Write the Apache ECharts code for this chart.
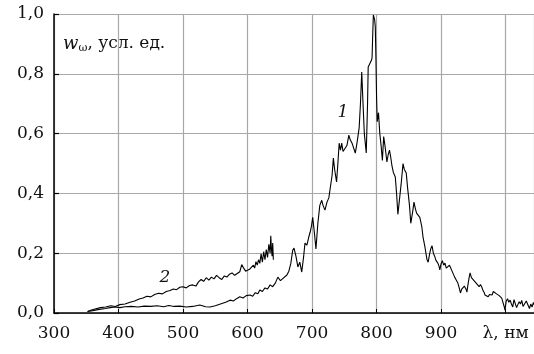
<!DOCTYPE html>
<html>
<head>
<meta charset="utf-8">
<script src="https://cdn.jsdelivr.net/npm/echarts@6/dist/echarts.min.js"></script>
<style>
  html, body { margin: 0; padding: 0; background: #fff; }
  #chart { width: 534px; height: 354px; }
</style>
</head>
<body>
<div id="chart"></div>
<script>
// Spectral density w_ω (arb. units) versus wavelength λ (nm), two spectra.
const wavelengthTicks = [300, 400, 500, 600, 700, 800, 900, 1000];
const densityTicks = [0.0, 0.2, 0.4, 0.6, 0.8, 1.0];

// Spectrum 1: [λ, w]
const spectrum1 = [
  [352, 0.005], [360, 0.008], [370, 0.012], [380, 0.015], [387, 0.018], [395, 0.020],
  [402, 0.018], [410, 0.021], [420, 0.022], [430, 0.020], [440, 0.023], [450, 0.022],
  [460, 0.024], [470, 0.021], [478, 0.025], [486, 0.022], [495, 0.023], [505, 0.020],
  [515, 0.022], [526, 0.027], [535, 0.021], [542, 0.020], [550, 0.024], [558, 0.030],
  [566, 0.036], [573, 0.043], [578, 0.040], [583, 0.048], [588, 0.054], [593, 0.050],
  [598, 0.058], [604, 0.060], [608, 0.056], [612, 0.068], [616, 0.064], [619, 0.077],
  [623, 0.072], [627, 0.084], [631, 0.080], [635, 0.094], [639, 0.088], [643, 0.100],
  [647, 0.120], [651, 0.108], [655, 0.116], [658, 0.112], [661, 0.127], [664, 0.140],
  [667, 0.165], [670, 0.210], [672, 0.217], [675, 0.190], [678, 0.154], [681, 0.170],
  [684, 0.137], [687, 0.190], [689, 0.234], [692, 0.227], [695, 0.255], [697, 0.270],
  [699, 0.290], [701, 0.320], [704, 0.260], [706, 0.214], [709, 0.300], [712, 0.360],
  [715, 0.377], [717, 0.360], [720, 0.344], [723, 0.370], [726, 0.385], [729, 0.390],
  [731, 0.460], [733, 0.518], [735, 0.480], [738, 0.438], [740, 0.500], [742, 0.568],
  [744, 0.545], [746, 0.568], [748, 0.540], [751, 0.535], [754, 0.560], [757, 0.595],
  [759, 0.580], [762, 0.568], [764, 0.555], [767, 0.535], [769, 0.560], [771, 0.589],
  [773, 0.620], [775, 0.700], [777, 0.806], [779, 0.700], [781, 0.600], [784, 0.535],
  [786, 0.700], [787, 0.823], [790, 0.836], [792, 0.845], [793, 0.853], [794, 0.930],
  [795, 0.997], [797, 0.980], [798, 0.957], [799, 0.850], [800, 0.720], [801, 0.640],
  [803, 0.670], [805, 0.600], [807, 0.560], [809, 0.510], [811, 0.590], [813, 0.560],
  [816, 0.505], [818, 0.530], [820, 0.545], [822, 0.520], [824, 0.490], [826, 0.470],
  [829, 0.455], [831, 0.400], [833, 0.330], [835, 0.370], [838, 0.430], [841, 0.500],
  [843, 0.480], [846, 0.468], [848, 0.420], [851, 0.360], [853, 0.300], [856, 0.340],
  [858, 0.371], [860, 0.350], [862, 0.334], [865, 0.330], [867, 0.320], [870, 0.290],
  [872, 0.254], [875, 0.220], [878, 0.180], [880, 0.170], [882, 0.195], [884, 0.215],
  [886, 0.225], [888, 0.200], [890, 0.190], [892, 0.176], [895, 0.167], [897, 0.155],
  [898, 0.144], [900, 0.165], [902, 0.175], [904, 0.160], [906, 0.167], [908, 0.150],
  [911, 0.144], [913, 0.160], [915, 0.155], [917, 0.140], [919, 0.144], [921, 0.120],
  [923, 0.112], [926, 0.100], [928, 0.085], [930, 0.067], [932, 0.080], [934, 0.077],
  [936, 0.090], [937, 0.094], [939, 0.078], [940, 0.070], [942, 0.100], [944, 0.125],
  [945, 0.134], [947, 0.118], [949, 0.117], [951, 0.108], [953, 0.104], [955, 0.098],
  [957, 0.094], [959, 0.088], [961, 0.095], [963, 0.087], [965, 0.075], [967, 0.068],
  [968, 0.060], [970, 0.064], [973, 0.054], [975, 0.062], [977, 0.058], [979, 0.060],
  [981, 0.072], [984, 0.077], [986, 0.064], [988, 0.067], [990, 0.058], [992, 0.062],
  [994, 0.050], [996, 0.035], [998, 0.020], [999, 0.010], [1001, 0.040], [1003, 0.048],
  [1005, 0.036], [1007, 0.043], [1009, 0.030], [1011, 0.020], [1013, 0.045], [1015, 0.040],
  [1017, 0.018], [1019, 0.015], [1021, 0.038], [1023, 0.030], [1025, 0.042], [1027, 0.022],
  [1030, 0.028], [1032, 0.040], [1035, 0.035], [1037, 0.015], [1039, 0.030], [1041, 0.020],
  [1043, 0.035], [1044, 0.028]
];

// Spectrum 2: [λ, w]
const spectrum2 = [
  [352, 0.005], [358, 0.010], [365, 0.014], [372, 0.018], [380, 0.020], [388, 0.024],
  [395, 0.022], [402, 0.028], [410, 0.030], [418, 0.036], [425, 0.040], [432, 0.047],
  [438, 0.050], [444, 0.056], [450, 0.054], [456, 0.062], [462, 0.066], [468, 0.064],
  [474, 0.072], [480, 0.075], [485, 0.080], [490, 0.078], [495, 0.086], [500, 0.088],
  [505, 0.084], [510, 0.092], [515, 0.094], [520, 0.090], [524, 0.104], [528, 0.112],
  [532, 0.106], [536, 0.118], [540, 0.110], [544, 0.120], [548, 0.114], [552, 0.126],
  [556, 0.118], [560, 0.112], [564, 0.124], [568, 0.120], [572, 0.130], [576, 0.134],
  [580, 0.126], [584, 0.132], [588, 0.138], [591, 0.162], [594, 0.150], [597, 0.140],
  [600, 0.134], [603, 0.146], [606, 0.144], [609, 0.160], [611, 0.150], [613, 0.172],
  [615, 0.160], [617, 0.178], [619, 0.166], [621, 0.198], [623, 0.170], [625, 0.205],
  [627, 0.178], [629, 0.212], [631, 0.186], [633, 0.230], [635, 0.200], [636, 0.258],
  [637, 0.215], [638, 0.190], [639, 0.234], [640, 0.178]
];

// Curve numbers and where they sit
const curveNames = ['1', '2'];
const curveNameAt = [[748, 0.669], [472, 0.117]];

const axisTitleX = 'λ, нм';
const axisTitleY = ', усл. ед.';

const SERIF = '"DejaVu Serif", "Liberation Serif", serif';
const chart = echarts.init(document.getElementById('chart'), null, { renderer: 'canvas' });

function curve(data, idx) {
  return {
    type: 'line',
    data: data,
    showSymbol: false,
    symbol: 'none',
    smooth: false,
    lineStyle: { color: '#000', width: 1.1 },
    silent: true,
    animation: false,
    markPoint: {
      symbol: 'circle',
      symbolSize: 0,
      silent: true,
      data: [{
        coord: curveNameAt[idx],
        label: {
          show: true,
          position: 'inside',
          formatter: curveNames[idx],
          fontFamily: SERIF,
          fontStyle: 'italic',
          fontSize: 17,
          color: '#111'
        }
      }]
    }
  };
}

chart.setOption({
  animation: false,
  backgroundColor: '#fff',
  grid: { left: 54, right: 0, top: 14, bottom: 41, containLabel: false },
  xAxis: {
    type: 'value',
    min: 300,
    max: 1044,
    interval: 100,
    axisLine: { show: true, lineStyle: { color: '#000', width: 1.5 } },
    axisTick: { show: true, inside: true, length: 4, lineStyle: { color: '#000', width: 1 } },
    splitLine: { show: true, lineStyle: { color: '#a8a8a8', width: 1.2 } },
    axisLabel: {
      margin: 12,
      fontFamily: SERIF,
      fontSize: 17,
      color: '#111',
      showMaxLabel: false,
      formatter: function (v) {
        if (v === 1000) return axisTitleX;
        return wavelengthTicks.indexOf(v) >= 0 ? String(v) : '';
      }
    }
  },
  yAxis: {
    type: 'value',
    min: 0,
    max: 1,
    interval: 0.2,
    axisLine: { show: true, lineStyle: { color: '#000', width: 1.5 } },
    axisTick: { show: true, inside: true, length: 5, lineStyle: { color: '#000', width: 1.2 } },
    splitLine: { show: true, lineStyle: { color: '#a8a8a8', width: 1.2 } },
    axisLabel: {
      margin: 10,
      fontFamily: SERIF,
      fontSize: 17,
      color: '#111',
      formatter: function (v) {
        const t = densityTicks.find(function (d) { return Math.abs(d - v) < 1e-6; });
        return t === undefined ? '' : t.toFixed(1).replace('.', ',');
      }
    }
  },
  graphic: [{
    type: 'text',
    left: 63,
    top: 35,
    silent: true,
    style: {
      text: '{w|w}{s|ω}{t|' + axisTitleY + '}',
      rich: {
        w: { fontFamily: SERIF, fontStyle: 'italic', fontSize: 18, fill: '#111', fontWeight: 'normal' },
        s: { fontFamily: SERIF, fontSize: 11, fill: '#111', verticalAlign: 'bottom', padding: [8, 0, 0, 0] },
        t: { fontFamily: SERIF, fontSize: 17, fill: '#111' }
      }
    }
  }],
  series: [curve(spectrum1, 0), curve(spectrum2, 1)]
});
</script>
</body>
</html>
